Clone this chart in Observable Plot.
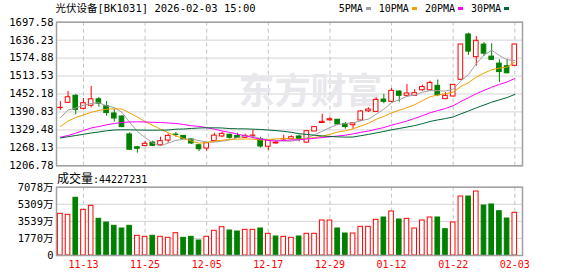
<!DOCTYPE html>
<html><head><meta charset="utf-8">
<script src="https://cdn.jsdelivr.net/npm/d3@7"></script>
<script src="https://cdn.jsdelivr.net/npm/@observablehq/plot@0.6"></script>
<style>
body{margin:0;background:#fff;}
#wrap{position:relative;width:578px;height:276px;overflow:hidden;font-family:"DejaVu Sans Mono","Noto Sans CJK SC",monospace;}
#wrap svg{display:block;position:absolute;left:0;}
.ov{position:absolute;white-space:nowrap;color:#000;line-height:12px;}
.lg{display:flex;align-items:center;font-size:10px;}
.sw{display:inline-block;width:5px;height:3px;margin:0 8px 0 3px;}
</style></head><body><div id="wrap"></div>
<script>
const titleText = "光伏设备[BK1031] 2026-02-03 15:00";
const volLabel = "成交量";
const volValueText = ":44227231";
const maNames = ["5PMA", "10PMA", "20PMA", "30PMA"];
const maColors = ["#a0a0a0", "#f0a000", "#ff00ff", "#006633"];

const dates = ["11-10","11-11","11-12","11-13","11-14","11-17","11-18","11-19","11-20","11-21",
"11-24","11-25","11-26","11-27","11-28","12-01","12-02","12-03","12-04","12-05",
"12-08","12-09","12-10","12-11","12-12","12-15","12-16","12-17","12-18","12-19",
"12-22","12-23","12-24","12-25","12-26","12-29","12-30","12-31","01-05","01-06",
"01-07","01-08","01-09","01-12","01-13","01-14","01-15","01-16","01-19","01-20",
"01-21","01-22","01-23","01-26","01-27","01-28","01-29","01-30","02-02","02-03"];

const open = [1404,1422,1446,1401.6,1412,1434,1410.5,1385.6,1375,1314,
1270,1274,1286,1277,1293,1313.5,1309,1297,1277,1266,
1291,1307,1313,1309,1302.5,1309,1298,1272,1283,1297,
1297.7,1307,1286,1324,1353,1362,1364,1350,1345.5,1361.6,
1393,1391,1433,1425.5,1460.7,1446,1446,1465,1465,1480,
1434.4,1443.6,1500.7,1655.5,1578,1621,1580,1556,1547,1548.6];

const close = [1405,1441,1398,1420.7,1434,1419,1387,1368.4,1339,1261.5,
1265,1282,1275,1291,1309,1312,1298,1283,1263.5,1284,
1310,1316,1302.5,1302,1309,1310,1272.7,1293,1286,1298,
1304.5,1298,1325,1339,1357,1366,1348,1339,1352,1392.4,
1399,1432,1425.5,1463,1446,1454,1455,1476,1490,1448,
1446,1483.6,1621.4,1597,1634,1590,1569,1527,1523,1621.4];

const high = [1426.5,1461,1450.5,1436,1478,1440,1426.5,1400,1379,1320,
1273,1290,1291,1304.5,1316,1320.6,1310,1299,1279.6,1286.4,
1318,1321.6,1314.8,1318,1315,1327.7,1304.5,1293.3,1290,1311.5,
1309,1311.5,1327.7,1341,1383,1372,1366,1354.7,1354.7,1395.8,
1405,1439,1451,1471,1463,1484.7,1467,1482,1496,1500,
1457,1484.7,1621.4,1660,1648.7,1628.2,1624,1569,1571,1621.4];

const low = [1396,1421,1381,1398,1405,1407,1376,1356,1337,1259,
1250,1271.6,1273,1275,1284,1304.5,1297,1279.6,1255.6,1256.7,
1291,1302.5,1297.7,1300,1300,1299,1267,1259,1281,1293.3,
1296,1288.8,1284,1324,1352,1360,1346,1332,1332,1359,
1389,1389,1418.7,1422,1424,1441,1444,1461,1462,1443,
1434,1441.2,1498.3,1583.8,1547,1580.3,1566.7,1491.5,1521,1548.6];

const ma5 = [1370.8,1397.5,1404.3,1413.9,1419.8,1422.6,1411.8,1405.8,1389.4,1354.9,
1324.1,1303.1,1284.5,1274.9,1284.4,1293.8,1297,1298.6,1293.1,1288.1,
1287.7,1291.3,1295.2,1303,1308.5,1307.9,1299.2,1297.3,1294,1291.3,
1290.8,1295.9,1302.3,1312.8,1324.8,1337.5,1347.9,1350.7,1353.4,1360.3,
1366.5,1382.9,1400.2,1422.4,1433.1,1444.1,1448.5,1458.2,1463.4,1463.8,
1462.2,1468.1,1497.6,1518.8,1556,1584.8,1601.9,1583.6,1569.2,1566.7];

const ma10 = [1341.1,1359.9,1371.9,1380.4,1389.6,1395.8,1400.2,1401.6,1400.9,1387.4,
1373.4,1357.5,1345.2,1332.2,1319.7,1309,1300.1,1291.6,1284,1286.3,
1290.8,1294.2,1296.9,1298.1,1298.3,1297.8,1295.3,1296.3,1298.5,1299.9,
1299.4,1297.6,1299.8,1303.4,1308.1,1314.2,1321.9,1326.5,1333.1,1342.6,
1352,1365.4,1375.5,1387.9,1396.7,1405.3,1415.7,1429.2,1442.9,1448.5,
1453.2,1458.3,1477.9,1491.1,1509.9,1523.5,1535,1540.6,1544,1561.3];

const ma20 = [1304.5,1310.3,1318.2,1327.4,1336,1341.1,1346.9,1351.4,1354.8,1356.5,
1357.2,1356.5,1355.5,1354.8,1353.1,1351.4,1347.9,1343.5,1341.8,1336.8,
1332.1,1325.8,1321,1315.1,1309,1303.4,1297.7,1293.9,1291.3,1293.1,
1295.1,1295.9,1298.4,1300.7,1303.2,1306,1308.6,1311.4,1315.8,1321.2,
1325.7,1331.5,1337.6,1345.7,1352.4,1359.7,1368.8,1377.9,1388,1395.5,
1402.6,1411.9,1426.7,1439.5,1453.3,1464.4,1475.3,1484.9,1493.4,1504.9];

const ma30 = [1301.8,1306.2,1310.3,1314.4,1318.9,1322.3,1326.4,1329.1,1329.8,1329.8,
1329.1,1328.5,1328.5,1328.5,1329.1,1331.9,1332.6,1334.3,1336,1336.6,
1336.6,1336,1334,1333.2,1333,1332,1331,1329,1327,1324.5,
1321.2,1316.4,1314,1311.2,1308.7,1307,1305.7,1304.8,1305.2,1309.6,
1314,1319,1324.1,1329.8,1334.4,1339.1,1344.3,1350.7,1358.2,1363.6,
1368.2,1373.8,1384.4,1394.1,1404.9,1414.3,1424.2,1432.1,1440,1450.8];

// volume in 万
const volume = [4320,4217,5978,4735,5149,3802,3419,3077,2797,3077,
2041,1937,2041,1937,1834,2310,1834,1937,1554,1937,
2559,2932,2590,2486,2662,2662,2797,2248,1968,1937,
1834,1968,2248,2248,3626,3626,2797,2279,2279,2973,
2973,3699,3937,4558,3730,3802,2797,3626,3937,3937,
2725,3419,6112,6112,6630,5180,5284,4590,3833,4423];

const volColor = ["r","r","g","r","r","g","g","g","g","g",
"r","r","g","r","r","r","g","g","g","r",
"r","r","g","g","r","r","g","r","g","r",
"r","g","r","r","r","r","g","g","r","r",
"r","r","g","r","g","r","r","r","r","g",
"g","r","r","g","r","g","g","g","g","r"];

const priceTicks = [1206.78,1268.13,1329.48,1390.83,1452.18,1513.53,1574.88,1636.23,1697.58];
const volTicks = [0,1769.5,3539,5308.5,7078];
const volTickLabels = ["0","1770万","3539万","5309万","7078万"];
const xTickIdx = [3,11,19,27,35,43,51,59];

const RED = "#ff0000", GREEN = "#008000";
const FONT = '"DejaVu Sans Mono","Noto Sans CJK SC",monospace';

const rows = dates.map((d, i) => ({
  i, date: d, open: open[i], close: close[i], high: high[i], low: low[i],
  ma5: ma5[i], ma10: ma10[i], ma20: ma20[i], ma30: ma30[i],
  vol: volume[i], vc: volColor[i]
}));
const up = d => d.close >= d.open;
const xDomain = [-0.5, 60];
const half = 0.3;

const price = Plot.plot({
  width: 578, height: 170,
  marginTop: 21.7, marginBottom: 4.7, marginLeft: 56, marginRight: 56,
  style: {fontFamily: FONT, fontSize: "10.5px", background: "transparent", overflow: "visible"},
  x: {domain: xDomain, axis: null, label: null},
  y: {domain: [priceTicks[0], priceTicks[priceTicks.length - 1]], axis: null, label: null},
  marks: [
    Plot.ruleY(priceTicks, {stroke: "#d4d4d4"}),
    Plot.ruleX(xTickIdx, {stroke: "#c4c4c4", strokeDasharray: "4,3"}),
    Plot.text(["东方财富"], {frameAnchor: "middle", dx: 21, dy: -1.5, fontSize: 36, fontWeight: "bold", fill: "#e8e8ec", fontFamily: '"Noto Sans CJK SC"'}),
    Plot.ruleX(rows, {x: "i", y1: "low", y2: "high", stroke: d => up(d) ? RED : GREEN, strokeWidth: 1}),
    Plot.rect(rows, {x1: d => d.i - half, x2: d => d.i + half, y1: "open", y2: "close",
      fill: d => up(d) ? "#ffffff" : GREEN, stroke: d => up(d) ? RED : GREEN, strokeWidth: 1}),
    Plot.line(rows, {x: "i", y: "ma5", stroke: maColors[0], strokeWidth: 1}),
    Plot.line(rows, {x: "i", y: "ma10", stroke: maColors[1], strokeWidth: 1}),
    Plot.line(rows, {x: "i", y: "ma20", stroke: maColors[2], strokeWidth: 1}),
    Plot.line(rows, {x: "i", y: "ma30", stroke: maColors[3], strokeWidth: 1}),
    Plot.axisY(priceTicks, {tickSize: 0, tickPadding: 3, tickFormat: d => d.toFixed(2), fontSize: 10.5, fill: "#000", label: null}),
    Plot.frame({stroke: "#a0a0a0", strokeWidth: 1.5}),
    Plot.text([titleText], {frameAnchor: "top-left", dx: -1, dy: -13.5, lineAnchor: "middle", textAnchor: "start", fontSize: 10.5, fill: "#000"})
  ]
});
price.style.top = "0px";

const vol = Plot.plot({
  width: 578, height: 106,
  marginTop: 16.7, marginBottom: 21, marginLeft: 56, marginRight: 56,
  style: {fontFamily: FONT, fontSize: "10.5px", background: "transparent", overflow: "visible"},
  x: {domain: xDomain, axis: null, label: null},
  y: {domain: [0, volTicks[volTicks.length - 1]], axis: null, label: null},
  marks: [
    Plot.ruleY(volTicks, {stroke: "#d4d4d4"}),
    Plot.ruleX(xTickIdx, {stroke: "#c4c4c4", strokeDasharray: "4,3"}),
    Plot.rect(rows, {x1: d => d.i - half, x2: d => d.i + half, y1: 0, y2: "vol",
      fill: d => d.vc === "r" ? "#ffffff" : GREEN, stroke: d => d.vc === "r" ? RED : GREEN, strokeWidth: 1}),
    Plot.axisY(volTicks, {tickSize: 0, tickPadding: 3, tickFormat: d => volTickLabels[volTicks.indexOf(d)], fontSize: 10.5, fill: "#000", label: null}),
    Plot.axisX(xTickIdx, {tickSize: 0, tickPadding: 5, tickFormat: i => dates[i], color: RED, fontSize: 10, label: null}),
    Plot.frame({stroke: "#a0a0a0", strokeWidth: 1.5})
  ]
});
vol.style.top = "170px";

const wrap = document.getElementById("wrap");
wrap.appendChild(price);
wrap.appendChild(vol);

// legend
const lg = document.createElement("div");
lg.className = "ov lg";
lg.style.left = "338.7px";
lg.style.top = "2.5px";
maNames.forEach((n, k) => {
  const t = document.createElement("span");
  t.textContent = n;
  lg.appendChild(t);
  const s = document.createElement("span");
  s.className = "sw";
  s.style.background = maColors[k];
  lg.appendChild(s);
});
wrap.appendChild(lg);

// volume label
const vl = document.createElement("div");
vl.className = "ov";
vl.style.left = "57px";
vl.style.top = "171.5px";
vl.innerHTML = '<span style="font-size:12px">' + volLabel + '</span><span style="font-size:10px">' + volValueText + '</span>';
wrap.appendChild(vl);
</script>
</body></html>
